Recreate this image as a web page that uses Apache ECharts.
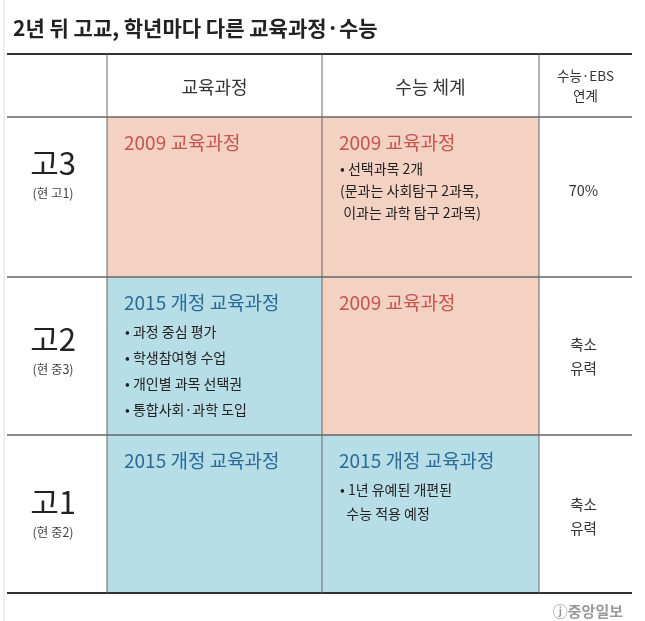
<!DOCTYPE html><html><head><meta charset="utf-8">
<script src="https://cdn.jsdelivr.net/npm/echarts@6/dist/echarts.min.js"></script>
<style>html,body{margin:0;background:#fff}#c{width:645px;height:621px}</style></head><body><div id="c"></div>
<script>
const title = '2년 뒤 고교, 학년마다 다른 교육과정·수능';
const columns = ['', '교육과정', '수능 체계', '수능·EBS\n연계'];
const grades = ['고3', '고2', '고1'];
const gradeNotes = ['(현 고1)', '(현 중3)', '(현 중2)'];
const curriculum = ['2009 교육과정', '2015 개정 교육과정', '2015 개정 교육과정'];
const curriculumNotes = [[], ['• 과정 중심 평가', '• 학생참여형 수업', '• 개인별 과목 선택권', '• 통합사회·과학 도입'], []];
const suneung = ['2009 교육과정', '2009 교육과정', '2015 개정 교육과정'];
const suneungNotes = [['• 선택과목 2개', '(문과는 사회탐구 2과목,', ' 이과는 과학 탐구 2과목)'], [], ['• 1년 유예된 개편된', '  수능 적용 예정']];
const ebs = ['70%', '축소\n유력', '축소\n유력'];
const colEdges = [0, 100, 315, 532, 625];
const rowEdges = [0, 63, 223, 381, 539];

const F = '"Noto Sans CJK KR", sans-serif';
const PINK = '#f3d1c3', BLUE = '#b7dde7', RED = '#c65450', BLU = '#2c6b98';
const cells = [];
for (let c = 0; c < 4; c++) cells.push({col: c, row: 0});
for (let r = 0; r < 3; r++) for (let c = 0; c < 4; c++) cells.push({col: c, row: r + 1});

function bg(col, row) {
  if (row === 0 || col === 0 || col === 3) return null;
  const t = col === 1 ? curriculum[row - 1] : suneung[row - 1];
  return t.startsWith('2009') ? PINK : BLUE;
}

function renderItem(params, api) {
  const d = cells[params.dataIndex];
  const p0 = api.coord([colEdges[d.col], rowEdges[d.row]]);
  const p1 = api.coord([colEdges[d.col + 1], rowEdges[d.row + 1]]);
  const x = p0[0], y = p0[1], w = p1[0] - p0[0], h = p1[1] - p0[1];
  const ch = [];
  const fill = bg(d.col, d.row);
  if (fill) ch.push({type: 'rect', shape: {x, y, width: w, height: h}, style: {fill}});
  const txt = (t, tx, ty, o) => ch.push({type: 'text', style: Object.assign({text: t, x: tx, y: ty, fontFamily: F, fill: '#333', fontSize: 14, textVerticalAlign: 'middle'}, o)});
  const cx = x + w / 2;
  if (d.row === 0) {
    if (d.col === 3) txt(columns[3], cx, y + h / 2, {align: 'center', fontSize: 13.5, lineHeight: 20});
    else if (d.col > 0) txt(columns[d.col], cx, y + h / 2 + 2, {align: 'center', fontSize: 18});
  } else {
    const i = d.row - 1;
    const mid = y + h / 2;
    const off = i === 0 ? -22 : (i === 1 ? -5 : 0);
    if (d.col === 0) {
      txt(grades[i], cx - 4, mid - 12 + off, {align: 'center', fontSize: 31, fill: '#222'});
      txt(gradeNotes[i], cx - 4, mid + 18 + off, {align: 'center', fontSize: 12.5, fill: '#444'});
    } else if (d.col === 3) {
      txt(ebs[i], cx - 2, mid + (i === 0 ? -7 : (i === 1 ? 0 : 2)), {align: 'center', fontSize: 14.5, lineHeight: 24});
    } else {
      const head = d.col === 1 ? curriculum[i] : suneung[i];
      const notes = d.col === 1 ? curriculumNotes[i] : suneungNotes[i];
      const color = head.startsWith('2009') ? RED : BLU;
      txt(head, x + 17, y + 26, {fontSize: 19, fill: color});
      const lh = d.col === 1 ? 26 : (i === 0 ? 22 : 24);
      notes.forEach((n, k) => txt(n, x + 18, y + 55 + k * lh + (i === 0 ? -3 : 0), {fontSize: 14, fill: '#222'}));
    }
  }
  return {type: 'group', children: ch};
}

function renderLines(params, api) {
  const ch = [];
  const L = api.coord([0, 0])[0], R = api.coord([625, 0])[0];
  const T = api.coord([0, 0])[1], B = api.coord([0, 539])[1];
  rowEdges.forEach((r, k) => {
    const yy = api.coord([0, r])[1];
    const thick = k === 0 || k === rowEdges.length - 1;
    ch.push({type: 'line', shape: {x1: L, y1: yy, x2: R, y2: yy}, style: {stroke: thick ? '#333' : '#666', lineWidth: thick ? 2 : 1.5}});
  });
  colEdges.slice(1, -1).forEach(c => {
    const xx = api.coord([c, 0])[0];
    ch.push({type: 'line', shape: {x1: xx, y1: T, x2: xx, y2: B}, style: {stroke: '#666', lineWidth: 1}});
  });
  return {type: 'group', children: ch};
}

const chart = echarts.init(document.getElementById('c'));
chart.setOption({
  animation: false,
  title: {text: title, left: 8, top: 13, textStyle: {fontFamily: F, fontSize: 21, fontWeight: 'bold', color: '#222'}},
  grid: {left: 7, right: 13, top: 54, bottom: 28},
  xAxis: {type: 'value', min: 0, max: 625, show: false},
  yAxis: {type: 'value', min: 0, max: 539, inverse: true, show: false},
  graphic: [
    {type: 'line', shape: {x1: 4, y1: 0, x2: 4, y2: 621}, style: {stroke: '#ddd', lineWidth: 1}},
    {type: 'text', right: 22, bottom: 2, style: {text: 'ⓙ중앙일보', fontFamily: F, fontSize: 15, fill: '#999', fontWeight: 'bold'}}
  ],
  series: [
    {type: 'custom', renderItem, data: cells.map((c, i) => i), silent: true},
    {type: 'custom', renderItem: renderLines, data: [0], silent: true, z: 5}
  ]
});
</script></body></html>
